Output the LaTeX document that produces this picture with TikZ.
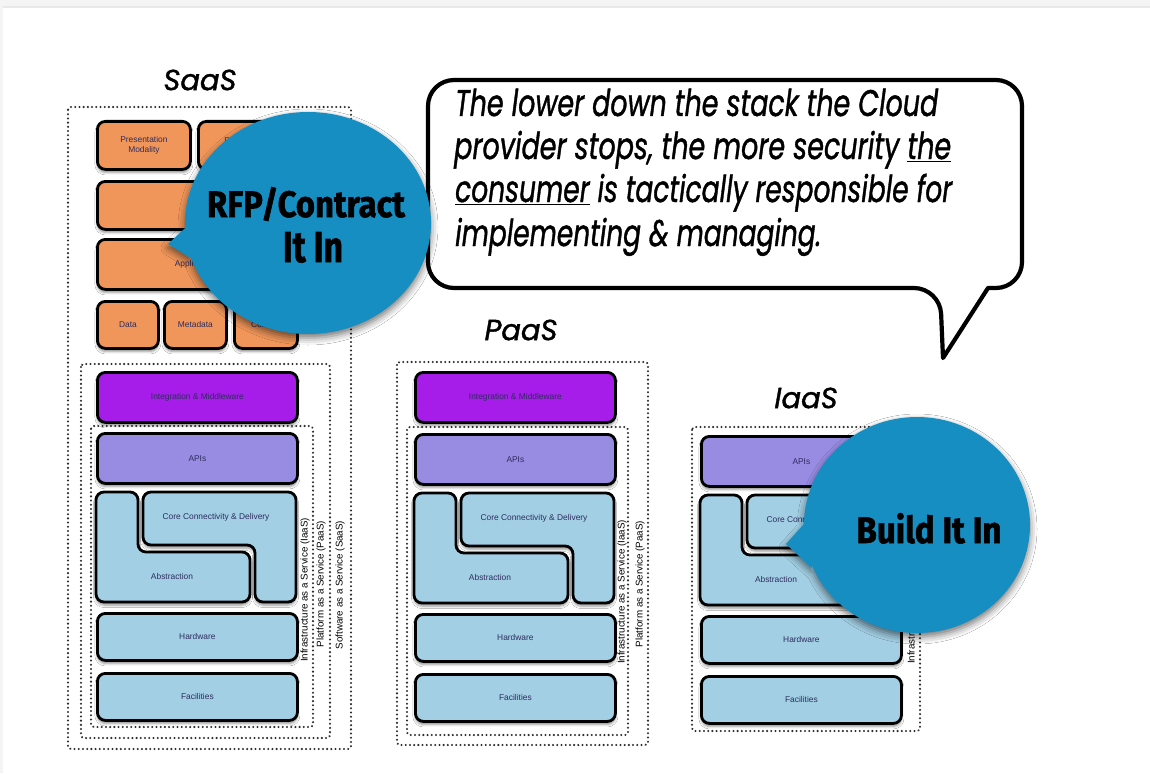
\documentclass[tikz,border=0pt]{standalone}
\usepackage{fontspec}
\usepackage{graphicx}
\setmainfont{Liberation Sans}
\newfontfamily\geofont{Poppins}[FakeBold=1.3]
\newfontfamily\heavyfont{Fira Sans}[FakeBold=1.6]
\usetikzlibrary{shadows.blur}

\definecolor{saasorange}{RGB}{240,150,90}
\definecolor{midviolet}{RGB}{166,28,232}
\definecolor{apililac}{RGB}{152,140,226}
\definecolor{infrablue}{RGB}{162,207,228}
\definecolor{calloutblue}{RGB}{23,142,194}
\definecolor{blocktext}{RGB}{45,45,95}
\definecolor{dotgray}{RGB}{45,45,45}

\tikzset{
  block/.style={draw=black, line width=2.8pt, rounded corners=8pt,
    inner sep=0pt, anchor=north west, text=blocktext, align=center,
    font=\fontsize{8.4}{9.6}\selectfont,
    blur shadow={shadow xshift=0pt, shadow yshift=-3pt,
      shadow blur radius=2.5pt, shadow opacity=45}},
  blocklabel/.style={text=blocktext, align=center, inner sep=0pt,
    font=\fontsize{8.4}{9.6}\selectfont},
  dotbox/.style={draw=dotgray, line width=2.3pt, line cap=round,
    dash pattern=on 0.01pt off 4.2pt, rounded corners=3pt},
  sidelabel/.style={rotate=90, inner sep=0pt,
    font=\fontsize{9.8}{10}\selectfont},
  stacktitle/.style={inner sep=0pt,
    font=\geofont\itshape\fontsize{29}{30}\selectfont},
  callout/.style={fill=calloutblue,
    blur shadow={shadow xshift=0pt, shadow yshift=-4pt,
      shadow blur radius=7pt, shadow opacity=55}},
  bubbleline/.style={anchor=base west, inner sep=0pt,
    font=\geofont\itshape\fontsize{37}{40}\selectfont},
}

% infrastructure layers shared by all three service models
\newcommand\infrastack[3]{%
  \begin{scope}[shift={(#2,#3)}]
    \node[block, fill=apililac, minimum width=200pt, minimum height=50pt]
      (#1api) at (0,432) {APIs};
    \draw[block, fill=infrablue] (0,492) -- (42,492) -- (42,552) -- (154,552)
      -- (154,602) -- (0,602) -- cycle;
    \draw[block, fill=infrablue] (47,492) -- (200,492) -- (200,602)
      -- (159,602) -- (159,545) -- (47,545) -- cycle;
    \node[blocklabel] (#1core) at (120,517) {Core Connectivity \& Delivery};
    \node[blocklabel] (#1abs) at (76,576) {Abstraction};
    \node[block, fill=infrablue, minimum width=200pt, minimum height=47pt]
      (#1hw) at (0,612) {Hardware};
    \node[block, fill=infrablue, minimum width=200pt, minimum height=47pt]
      (#1fac) at (0,672) {Facilities};
  \end{scope}}

\newcommand\midlayer[2]{%
  \node[block, fill=midviolet, minimum width=200pt, minimum height=50pt]
    (#1mid) at (#2,371) {Integration \& Middleware};}

\begin{document}
\begin{tikzpicture}[x=1pt, y=-1pt]
\useasboundingbox (0,0) rectangle (1150,773);
\fill[white] (0,0) rectangle (1150,773);
\fill[gray!9] (0,0) rectangle (1150,6);
\draw[gray!18, line width=1.2pt] (0,7) -- (1150,7);
\fill[gray!9] (0,0) rectangle (3,773);

% ---------------- SaaS ----------------
\node[stacktitle] (saastitle) at (200,80) {SaaS};
\draw[dotbox] (68,107) rectangle (351,749);
\draw[dotbox] (81,364) rectangle (330,738);
\draw[dotbox] (91,426) rectangle (313,727);
\node[block, fill=saasorange, minimum width=93pt, minimum height=48pt]
  (spm) at (96,120) {Presentation\\Modality};
\node[block, fill=saasorange, minimum width=99pt, minimum height=48pt]
  (spp) at (197,120) {Presentation\\Platform};
\node[block, fill=saasorange, minimum width=200pt, minimum height=48pt]
  (srow) at (96,180) {};
\node[block, fill=saasorange, minimum width=200pt, minimum height=50pt]
  (sapp) at (96,238) {Applications};
\node[block, fill=saasorange, minimum width=61pt, minimum height=47pt]
  (sdata) at (96,300) {Data};
\node[block, fill=saasorange, minimum width=62pt, minimum height=47pt]
  (smeta) at (163,300) {Metadata};
\node[block, fill=saasorange, minimum width=63pt, minimum height=47pt]
  (scont) at (233,300) {Content};
\midlayer{s}{96}
\infrastack{s}{96}{0}
\node[sidelabel] (siaas) at (305,590) {Infrastructure as a Service (IaaS)};
\node[sidelabel] (spaas) at (321,584) {Platform as a Service (PaaS)};
\node[sidelabel] (ssaas) at (340,585) {Software as a Service (SaaS)};

% ---------------- PaaS ----------------
\node[stacktitle] (paastitle) at (521,330) {PaaS};
\draw[dotbox] (397,362) rectangle (648,745);
\draw[dotbox] (407,427) rectangle (628,735);
\midlayer{p}{414}
\infrastack{p}{414}{1}
\node[sidelabel] (piaas) at (622,592) {Infrastructure as a Service (IaaS)};
\node[sidelabel] (ppaas) at (640,584) {Platform as a Service (PaaS)};

% ---------------- IaaS ----------------
\node[stacktitle] (iaastitle) at (806,398) {IaaS};
\draw[dotbox] (692,427) rectangle (920,731);
\infrastack{i}{700}{3}
\node[sidelabel] (iiaas) at (912,592) {Infrastructure as a Service (IaaS)};

% ---------------- speech bubble ----------------
\draw[line width=4.2pt, line join=round, fill=white]
  (988,288) [rounded corners=26pt] -- (1022,288) -- (1022,80) -- (428,80)
  -- (428,288) -- (940,288) [sharp corners] -- (943,358) -- cycle;
\node[bubbleline] (lineA) at (455,116)
  {\resizebox{483pt}{\height}{The lower down the stack the Cloud}};
\node[bubbleline] (lineB) at (454,159)
  {\resizebox{497pt}{\height}{provider stops, the more security \underline{the}}};
\node[bubbleline] (lineC) at (455,202)
  {\resizebox{497pt}{\height}{\underline{consumer} is tactically responsible for}};
\node[bubbleline] (lineD) at (455,246)
  {\resizebox{366pt}{\height}{implementing \& managing.}};

% ---------------- callouts ----------------
\fill[callout] (308,223) ellipse [x radius=123pt, y radius=111pt]
  (195,219) -- (168,244) -- (203,266) -- cycle;
\node[anchor=base, inner sep=0pt] (rfp) at (306,217)
  {\resizebox{198pt}{30pt}{\heavyfont\bfseries RFP/Contract}};
\node[anchor=base, inner sep=0pt] (rfpb) at (313,262)
  {\resizebox{60pt}{30pt}{\heavyfont\bfseries It In}};

\fill[callout] (917,525) ellipse [x radius=113pt, y radius=108pt]
  (812,515) -- (786,544) -- (812,568) -- cycle;
\node[anchor=base, inner sep=0pt] (build) at (929,543)
  {\resizebox{145pt}{30pt}{\heavyfont\bfseries Build It In}};
\end{tikzpicture}
\end{document}
